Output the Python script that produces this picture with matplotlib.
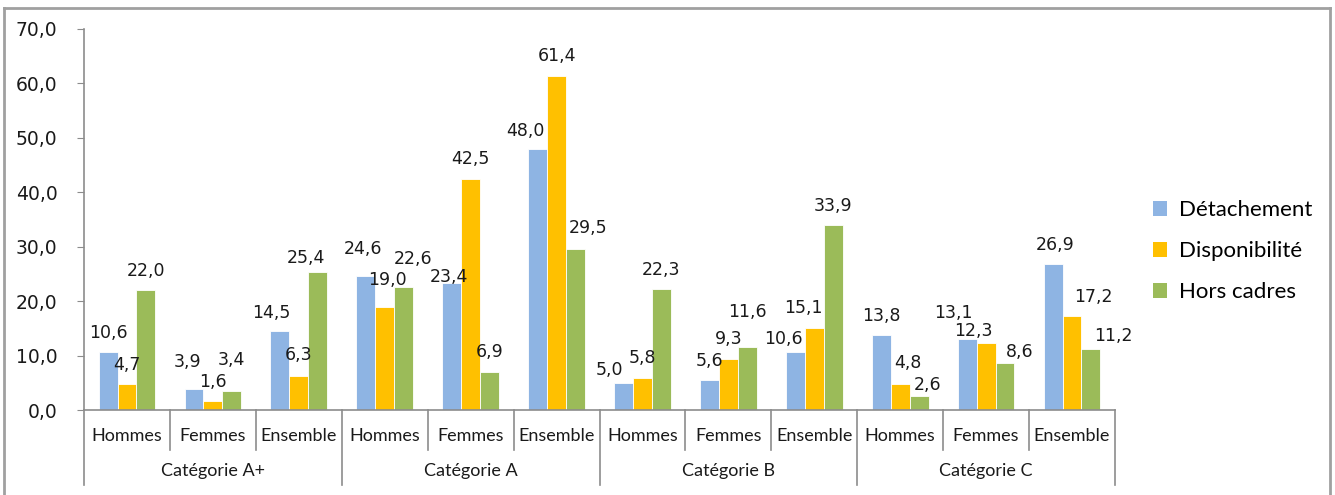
import matplotlib.pyplot as plt
from matplotlib.lines import Line2D
from matplotlib.patches import Patch
import numpy as np

categories = ["Catégorie A+", "Catégorie A", "Catégorie B", "Catégorie C"]
sexes = ["Hommes", "Femmes", "Ensemble"]
series_names = ["Détachement", "Disponibilité", "Hors cadres"]
detachement = [10.6, 3.9, 14.5, 24.6, 23.4, 48.0, 5.0, 5.6, 10.6, 13.8, 13.1, 26.9]
disponibilite = [4.7, 1.6, 6.3, 19.0, 42.5, 61.4, 5.8, 9.3, 15.1, 4.8, 12.3, 17.2]
hors_cadres = [22.0, 3.4, 25.4, 22.6, 6.9, 29.5, 22.3, 11.6, 33.9, 2.6, 8.6, 11.2]
colors = ["#8EB4E3", "#FFC000", "#9BBB59"]

# hand-placed data labels: horizontal shift and gap above the bar, in pixels
label_dx = [
    [0, -6, -9, -3, -3, -12, -14, 0, -12, 0, -14, 2],
    [0, 0, 0, 3, 0, 0, 0, 0, -11, 8, -13, 21],
    [0, 0, -12, 9, 0, 13, 0, 0, 0, 8, 15, 22],
]
label_gap = [
    [14, 22, 13, 22, 1, 13, 8, 14, 8, 14, 21, 14],
    [14, 14, 16, 22, 15, 15, 15, 15, 15, 16, 7, 14],
    [14, 26, 9, 23, 15, 16, 14, 30, 14, 6, 6, 8],
]


def fr(v):
    return f"{v:.1f}".replace(".", ",")


fig = plt.figure(figsize=(13.35, 4.95), dpi=100)
ax = fig.add_axes([84 / 1335, 1 - 410 / 495, (1115 - 84) / 1335, (410 - 29) / 495])

n = len(detachement)
x = np.arange(n)
width = 0.22
grey = "#8C8C8C"
px2pt = 72 / fig.dpi
for i, (vals, c) in enumerate(zip([detachement, disponibilite, hors_cadres], colors)):
    pos = x + (i - 1) * width
    ax.bar(pos, vals, width, color=c, edgecolor="white", linewidth=0.6, zorder=2)
    for k, (p, v) in enumerate(zip(pos, vals)):
        ax.annotate(fr(v), (p, v), xytext=(label_dx[i][k] * px2pt, label_gap[i][k] * px2pt),
                    textcoords="offset points", ha="center", va="baseline", fontsize=12.5,
                    family="DejaVu Sans", color="#1A1A1A", annotation_clip=False)

ax.set_xlim(-0.5, n - 0.5)
ax.set_ylim(0, 70)
ax.set_yticks(np.arange(0, 71, 10))
ax.set_yticklabels([fr(t) for t in np.arange(0, 71, 10)], fontsize=13.5,
                   family="DejaVu Sans", color="#1A1A1A")
ax.tick_params(axis="y", length=5, color=grey, pad=14)
ax.set_xticks([])
for s in ["top", "right"]:
    ax.spines[s].set_visible(False)
ax.spines["left"].set_color(grey)
ax.spines["bottom"].set_color(grey)
ax.spines["left"].set_linewidth(1.2)
ax.spines["bottom"].set_linewidth(1.2)

# two-level category axis drawn in blended data / axes-fraction coordinates
trans = ax.get_xaxis_transform()
unit = 1 / ((410 - 29) / 495 * 495)  # one pixel in axes fraction
for k in range(n + 1):
    xb = k - 0.5
    depth = 75 if k % 3 == 0 else 40
    ax.add_line(Line2D([xb, xb], [0, -depth * unit], transform=trans, color=grey,
                       linewidth=1.2, clip_on=False))
for k in range(n):
    ax.text(k, -26 * unit, sexes[k % 3], transform=trans, ha="center", va="center",
            fontsize=13, family="Lato", color="#1A1A1A")
for j, cat in enumerate(categories):
    ax.text(3 * j + 1, -61 * unit, cat, transform=trans, ha="center", va="center",
            fontsize=13, family="Lato", color="#1A1A1A")

handles = [Patch(facecolor=c, edgecolor="none") for c in colors]
fig.legend(handles, series_names, loc="center left", bbox_to_anchor=(1133 / 1335, 1 - 251 / 495),
           frameon=False, prop={"family": "Lato", "size": 16}, handlelength=0.65,
           handleheight=0.65, labelspacing=0.95, handletextpad=0.5)

# outer chart frame
for xs, ys in [([4, 4], [8, 495]), ([4, 1330], [8, 8]), ([1330, 1330], [8, 495])]:
    fig.add_artist(Line2D([v / 1335 for v in xs], [1 - v / 495 for v in ys],
                          transform=fig.transFigure, color="#A0A0A0", linewidth=2))

fig.savefig("out.png", dpi=100)
